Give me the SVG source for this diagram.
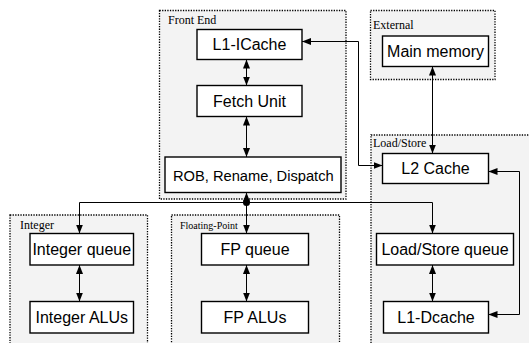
<svg xmlns="http://www.w3.org/2000/svg" width="529" height="343" viewBox="0 0 529 343">
  <style>
    .group { fill: #f3f3f3; stroke: #000; stroke-width: 1.3; stroke-dasharray: 1.3 1.3; }
    .glabel { font-family: "Liberation Serif", "Times New Roman", serif; font-size: 12px; fill: #000; }
    .box { fill: #fff; stroke: #000; stroke-width: 1.4; }
    .label { font-family: "Liberation Sans", Arial, sans-serif; font-size: 16px; fill: #000; text-anchor: middle; }
    .wire { fill: none; stroke: #000; stroke-width: 1; }
    .both { marker-start: url(#head); marker-end: url(#head); }
    .one { marker-end: url(#head); }
  </style>
  <defs>
    <marker id="head" viewBox="0 0 9 7" refX="9" refY="3.5" markerWidth="9" markerHeight="7" markerUnits="userSpaceOnUse" orient="auto-start-reverse">
      <path d="M0,0 L9,3.5 L0,7 z" fill="#000"/>
    </marker>
  </defs>

  <rect width="529" height="343" fill="#fff"/>

  <!-- functional groups -->
  <g id="group-frontend">
    <rect class="group" x="159.5" y="10.5" width="186.5" height="188.5"/>
    <text class="glabel" x="168" y="24">Front End</text>
  </g>
  <g id="group-external">
    <rect class="group" x="370.5" y="10.5" width="124.5" height="69"/>
    <text class="glabel" x="373" y="29">External</text>
  </g>
  <g id="group-loadstore">
    <rect class="group" x="371" y="135" width="170" height="220"/>
    <text class="glabel" x="373" y="147">Load/Store</text>
  </g>
  <g id="group-integer">
    <rect class="group" x="10" y="215" width="137.5" height="140"/>
    <text class="glabel" x="20" y="229">Integer</text>
  </g>
  <g id="group-fp">
    <rect class="group" x="171.5" y="215" width="168" height="140"/>
    <text class="glabel" x="180" y="229" style="font-size:10px">Floating-Point</text>
  </g>

  <!-- connectors -->
  <g id="connectors">
    <path class="wire both" d="M246.5,59.5 V85.5"/>
    <path class="wire both" d="M246.5,116.5 V157"/>
    <path class="wire both" d="M246.5,192.5 V233.5"/>
    <path class="wire one" d="M246.5,202.5 H79.5 V233.5"/>
    <path class="wire one" d="M246.5,202.5 H432.5 V233.5"/>
    <circle cx="246.5" cy="202.5" r="3.5" fill="#000"/>
    <path class="wire both" d="M79.5,265 V301.5"/>
    <path class="wire both" d="M246.5,265 V301.5"/>
    <path class="wire both" d="M432.5,265 V301.5"/>
    <path class="wire both" d="M432.5,66.5 V153.5"/>
    <path class="wire both" d="M302,41.5 H358.5 V165.5 H382.5"/>
    <path class="wire both" d="M488.5,171.5 H519.5 V314.5 H488.5"/>
  </g>

  <!-- units -->
  <g id="l1-icache">
    <rect class="box" x="197" y="29.5" width="105" height="30"/>
    <text class="label" x="249.5" y="50">L1-ICache</text>
  </g>
  <g id="fetch-unit">
    <rect class="box" x="197" y="85.5" width="105" height="31"/>
    <text class="label" x="249.5" y="106.5">Fetch Unit</text>
  </g>
  <g id="rob-rename-dispatch">
    <rect class="box" x="165" y="157" width="176" height="35.5"/>
    <text class="label" x="253.3" y="181" style="font-size:14.7px">ROB, Rename, Dispatch</text>
  </g>
  <g id="main-memory">
    <rect class="box" x="382.5" y="36" width="106" height="30.5"/>
    <text class="label" x="435.5" y="57">Main memory</text>
  </g>
  <g id="l2-cache">
    <rect class="box" x="382.5" y="153.5" width="106" height="30"/>
    <text class="label" x="435.5" y="174">L2 Cache</text>
  </g>
  <g id="integer-queue">
    <rect class="box" x="30" y="233.5" width="103.5" height="31.5"/>
    <text class="label" x="81.75" y="255">Integer queue</text>
  </g>
  <g id="integer-alus">
    <rect class="box" x="30" y="301.5" width="103.5" height="31.5"/>
    <text class="label" x="81.75" y="323">Integer ALUs</text>
  </g>
  <g id="fp-queue">
    <rect class="box" x="201.5" y="233.5" width="107" height="31.5"/>
    <text class="label" x="255" y="255">FP queue</text>
  </g>
  <g id="fp-alus">
    <rect class="box" x="201.5" y="301.5" width="107" height="31.5"/>
    <text class="label" x="255" y="323">FP ALUs</text>
  </g>
  <g id="load-store-queue">
    <rect class="box" x="376.5" y="233.5" width="137" height="31.5"/>
    <text class="label" x="445" y="255">Load/Store queue</text>
  </g>
  <g id="l1-dcache">
    <rect class="box" x="383.5" y="301.5" width="105" height="31.5"/>
    <text class="label" x="436" y="323">L1-Dcache</text>
  </g>
</svg>
